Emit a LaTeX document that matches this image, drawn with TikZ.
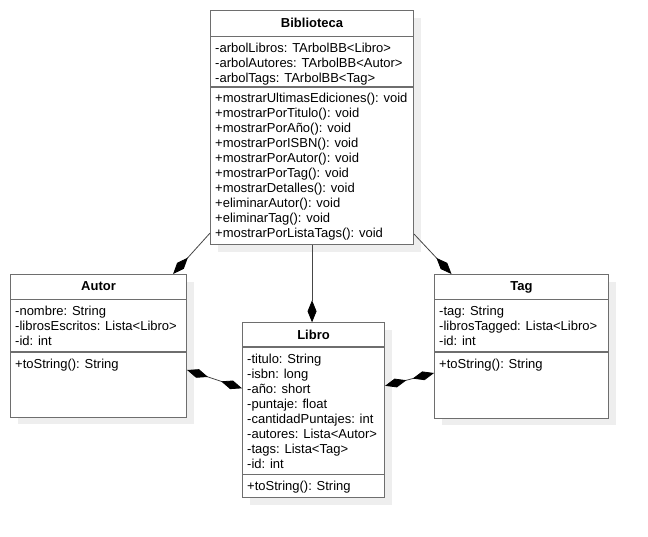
\documentclass[tikz,border=0pt]{standalone}
\usepackage{fontspec}
\setmainfont{Liberation Sans}
\definecolor{BorderColor}{RGB}{110,110,110}
\definecolor{ShadowColor}{RGB}{238,238,238}
\definecolor{LinkColor}{RGB}{70,70,70}
\usetikzlibrary{arrows.meta, shadows}
\tikzstyle{classline} = [BorderColor, line width=1.1pt]
\tikzstyle{link} = [LinkColor, line width=0.8pt, >={Diamond[length=22pt, width=9pt, color=black]}]
\tikzset{
  classbox/.style={rectangle, draw=BorderColor, line width=1.1pt, fill=white, anchor=north west, inner sep=0pt,
    drop shadow={shadow xshift=7pt, shadow yshift=-7pt, fill=ShadowColor, opacity=1}},
  classtitle/.style={anchor=base, inner sep=0pt, font=\fontsize{13}{15}\selectfont\bfseries},
  member/.style={anchor=base west, inner sep=0pt, font=\fontsize{13}{15}\selectfont}
}
\begin{document}
\begin{tikzpicture}[x=1pt, y=-1pt]
    \useasboundingbox (0,0) rectangle (648,537);

    % Biblioteca
    \node[classbox, minimum width=203pt, minimum height=234pt] (bib) at (210,10) {};
    \node[classtitle] (bibTitle) at ([yshift=-17.5pt]bib.north) {Biblioteca};
    \draw[classline] ([yshift=-26.7pt]bib.north west) -- ([yshift=-26.7pt]bib.north east);
    \draw[classline] ([yshift=-77pt]bib.north west) -- ([yshift=-77pt]bib.north east);
    \node[member] (bibA1) at (215,52.5) {-arbolLibros: TArbolBB<Libro>};
    \node[member] (bibA2) at (215,67.5) {-arbolAutores: TArbolBB<Autor>};
    \node[member] (bibA3) at (215,82.5) {-arbolTags: TArbolBB<Tag>};
    \node[member] (bibM1) at (215,103) {+mostrarUltimasEdiciones(): void};
    \node[member] (bibM2) at (215,118) {+mostrarPorTitulo(): void};
    \node[member] (bibM3) at (215,133) {+mostrarPorAño(): void};
    \node[member] (bibM4) at (215,148) {+mostrarPorISBN(): void};
    \node[member] (bibM5) at (215,163) {+mostrarPorAutor(): void};
    \node[member] (bibM6) at (215,178) {+mostrarPorTag(): void};
    \node[member] (bibM7) at (215,193) {+mostrarDetalles(): void};
    \node[member] (bibM8) at (215,208) {+eliminarAutor(): void};
    \node[member] (bibM9) at (215,223) {+eliminarTag(): void};
    \node[member] (bibM10) at (215,238) {+mostrarPorListaTags(): void};

    % Autor
    \node[classbox, minimum width=176pt, minimum height=142.5pt] (autor) at (10,274) {};
    \node[classtitle] (autorTitle) at ([yshift=-17pt]autor.north) {Autor};
    \draw[classline] ([yshift=-25.5pt]autor.north west) -- ([yshift=-25.5pt]autor.north east);
    \draw[classline] ([yshift=-78pt]autor.north west) -- ([yshift=-78pt]autor.north east);
    \node[member] (autorA1) at (15,315.5) {-nombre: String};
    \node[member] (autorA2) at (15,330.5) {-librosEscritos: Lista<Libro>};
    \node[member] (autorA3) at (15,345.5) {-id: int};
    \node[member] (autorM1) at (15,368) {+toString(): String};

    % Tag
    \node[classbox, minimum width=174pt, minimum height=143.5pt] (tag) at (434,274) {};
    \node[classtitle] (tagTitle) at ([yshift=-17pt]tag.north) {Tag};
    \draw[classline] ([yshift=-25.5pt]tag.north west) -- ([yshift=-25.5pt]tag.north east);
    \draw[classline] ([yshift=-78pt]tag.north west) -- ([yshift=-78pt]tag.north east);
    \node[member] (tagA1) at (439,315.5) {-tag: String};
    \node[member] (tagA2) at (439,330.5) {-librosTagged: Lista<Libro>};
    \node[member] (tagA3) at (439,345.5) {-id: int};
    \node[member] (tagM1) at (439,368) {+toString(): String};

    % Libro
    \node[classbox, minimum width=142pt, minimum height=174.7pt] (libro) at (242,322.3) {};
    \node[classtitle] (libroTitle) at ([yshift=-17.2pt]libro.north) {Libro};
    \draw[classline] ([yshift=-24.7pt]libro.north west) -- ([yshift=-24.7pt]libro.north east);
    \draw[classline] ([yshift=-152.2pt]libro.north west) -- ([yshift=-152.2pt]libro.north east);
    \node[member] (libroA1) at (247,363) {-titulo: String};
    \node[member] (libroA2) at (247,378) {-isbn: long};
    \node[member] (libroA3) at (247,393) {-año: short};
    \node[member] (libroA4) at (247,408) {-puntaje: float};
    \node[member] (libroA5) at (247,423) {-cantidadPuntajes: int};
    \node[member] (libroA6) at (247,438) {-autores: Lista<Autor>};
    \node[member] (libroA7) at (247,453) {-tags: Lista<Tag>};
    \node[member] (libroA8) at (247,468) {-id: int};
    \node[member] (libroM1) at (247,490.5) {+toString(): String};

    % Composiciones
    \draw[link, ->] ([yshift=12pt]bib.south west) -- ([xshift=-14pt]autor.north east);
    \draw[link, ->] (bib.south) -- (bib.south |- libro.north);
    \draw[link, ->] ([yshift=11pt]bib.south east) -- ([xshift=17.5pt]tag.north west);
    \draw[link, <->] ([yshift=-96pt]autor.north east) -- ([yshift=-66pt]libro.north west);
    \draw[link, <->] ([yshift=-63.5pt]libro.north east) -- ([yshift=-99pt]tag.north west);
\end{tikzpicture}
\end{document}
